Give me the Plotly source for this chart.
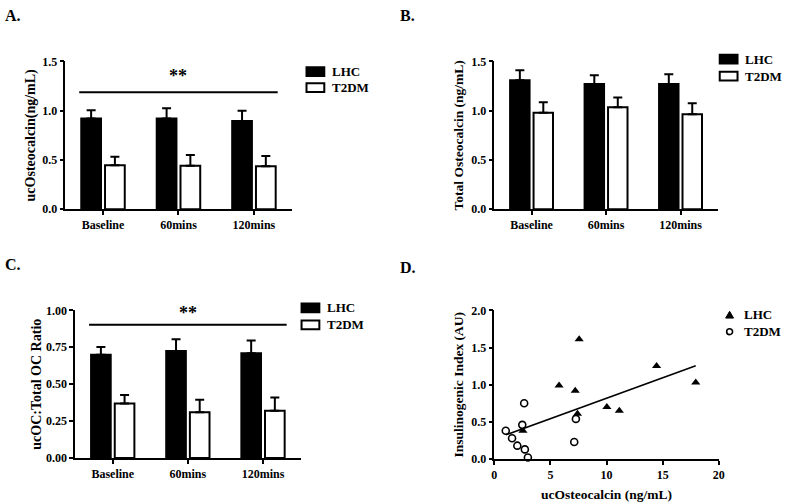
import numpy as np
import plotly.graph_objects as go

W, H = 789, 503

# ---------------- data ----------------
groups = ["Baseline", "60mins", "120mins"]

# A. ucOsteocalcin (ng/mL)
uc_lhc = [0.92, 0.92, 0.895]
uc_lhc_err = [0.085, 0.105, 0.105]
uc_t2dm = [0.445, 0.44, 0.435]
uc_t2dm_err = [0.088, 0.11, 0.105]

# B. Total osteocalcin (ng/mL)
tot_lhc = [1.31, 1.27, 1.27]
tot_lhc_err = [0.10, 0.09, 0.10]
tot_t2dm = [0.98, 1.035, 0.965]
tot_t2dm_err = [0.105, 0.10, 0.11]

# C. ucOC:Total OC ratio
ratio_lhc = [0.70, 0.725, 0.71]
ratio_lhc_err = [0.052, 0.08, 0.085]
ratio_t2dm = [0.37, 0.31, 0.32]
ratio_t2dm_err = [0.057, 0.084, 0.09]

# D. ucOsteocalcin vs insulinogenic index
d_lhc_x = [7.56, 5.77, 7.21, 7.41, 10.03, 11.14, 2.55, 14.46, 17.95]
d_lhc_y = [1.61, 0.99, 0.92, 0.61, 0.70, 0.65, 0.38, 1.25, 1.03]
d_t2dm_x = [1.02, 1.58, 2.05, 2.72, 2.99, 2.49, 2.66, 7.27, 7.12]
d_t2dm_y = [0.38, 0.28, 0.18, 0.13, 0.02, 0.46, 0.75, 0.54, 0.23]

# significance bars (y level) for A and C
sig_a = 1.187
sig_c = 0.903

# ---------------- helpers ----------------
FONT = "Liberation Serif"
BARGAP = 0.37


def fnt(size):
    return dict(family=FONT, size=size, color="black", weight="bold")


def px(x):
    return x / W


def py(y):
    return 1 - y / H


def bars(x, y, err, fill, axis):
    return go.Bar(
        x=x, y=y, xaxis="x" + axis, yaxis="y" + axis,
        marker=dict(color=fill, line=dict(color="black", width=2)),
        error_y=dict(type="data", array=err, arrayminus=[0] * len(err), symmetric=False,
                     color="black", thickness=2, width=4.5),
        showlegend=False,
    )


fig = go.Figure()
for axis, lhc, lhc_e, t2, t2_e in [
    ("", uc_lhc, uc_lhc_err, uc_t2dm, uc_t2dm_err),
    ("2", tot_lhc, tot_lhc_err, tot_t2dm, tot_t2dm_err),
    ("3", ratio_lhc, ratio_lhc_err, ratio_t2dm, ratio_t2dm_err),
]:
    fig.add_trace(bars(groups, lhc, lhc_e, "black", axis))
    fig.add_trace(bars(groups, t2, t2_e, "white", axis))

# scatter panel
fig.add_trace(go.Scatter(x=d_lhc_x, y=d_lhc_y, mode="markers", xaxis="x4", yaxis="y4",
                         marker=dict(symbol="triangle-up", size=8, color="black"),
                         cliponaxis=False, showlegend=False))
fig.add_trace(go.Scatter(x=d_t2dm_x, y=d_t2dm_y, mode="markers", xaxis="x4", yaxis="y4",
                         marker=dict(symbol="circle", size=7, color="white",
                                     line=dict(color="black", width=1.6)),
                         cliponaxis=False, showlegend=False))

# pooled linear fit
all_x = np.array(d_lhc_x + d_t2dm_x)
all_y = np.array(d_lhc_y + d_t2dm_y)
slope, icpt = np.polyfit(all_x, all_y, 1)
fx = np.array([all_x.min(), all_x.max()])
fig.add_trace(go.Scatter(x=fx, y=slope * fx + icpt, mode="lines", xaxis="x4", yaxis="y4",
                         line=dict(color="black", width=1.6), showlegend=False))

axis_common = dict(showline=True, linecolor="black", linewidth=1.5, ticks="outside",
                   ticklen=4, tickwidth=1.5, tickcolor="black", showgrid=False,
                   zeroline=False, tickfont=fnt(12))

fig.update_layout(
    width=W, height=H,
    margin=dict(l=0, r=0, t=0, b=0),
    paper_bgcolor="white", plot_bgcolor="white",
    font=fnt(12),
    barmode="group", bargap=BARGAP, bargroupgap=0.17,
    xaxis=dict(domain=[px(63), px(292)], anchor="y", range=[-0.5, 2.5], **axis_common),
    yaxis=dict(domain=[py(208), py(56)], anchor="x", range=[0, 1.5], dtick=0.5,
               tickformat=".1f", title=dict(text="ucOsteocalcin(ng/mL)", font=fnt(14), standoff=3),
               **axis_common),
    xaxis2=dict(domain=[px(497), px(723)], anchor="y2", range=[-0.5, 2.5], **axis_common),
    yaxis2=dict(domain=[py(208), py(56)], anchor="x2", range=[0, 1.5], dtick=0.5,
                tickformat=".1f", title=dict(text="Total Osteocalcin (ng/mL)", font=fnt(13.5), standoff=4),
                **axis_common),
    xaxis3=dict(domain=[px(73), px(301)], anchor="y3", range=[-0.5, 2.5], **axis_common),
    yaxis3=dict(domain=[py(464), py(312)], anchor="x3", range=[0, 1], dtick=0.25,
                tickformat=".2f", title=dict(text="ucOC:Total OC Ratio", font=fnt(14), standoff=1),
                **axis_common),
    xaxis4=dict(domain=[px(497), px(724)], anchor="y4", range=[0, 20], dtick=5,
                title=dict(text="ucOsteocalcin (ng/mL)", font=fnt(13.5), standoff=8),
                **axis_common),
    yaxis4=dict(domain=[py(465), py(312)], anchor="x4", range=[0, 2], dtick=0.5,
                tickformat=".1f", title=dict(text="Insulinogenic Index (AU)", font=fnt(13.5), standoff=4),
                **axis_common),
)

ann = []
shapes = []

# panel letters
for t, x, y in [("A.", 0, 9), ("B.", 400, 9), ("C.", 0, 265), ("D.", 400, 268)]:
    ann.append(dict(text=t, x=px(x), y=py(y), xref="paper", yref="paper",
                    xanchor="left", yanchor="middle", showarrow=False, font=fnt(16)))

# significance lines with stars
half = (1 - BARGAP) / 2
for xr, yr, lvl, star in [("x", "y", sig_a, 1.35), ("x3", "y3", sig_c, 0.985)]:
    shapes.append(dict(type="line", xref=xr, yref=yr, x0=-half, x1=2 + half, y0=lvl, y1=lvl,
                       line=dict(color="black", width=2)))
    ann.append(dict(text="**", x=1, y=star, xref=xr, yref=yr, xanchor="center",
                    yanchor="middle", showarrow=False, font=fnt(18)))

# bar legends (box x0, x1, top y of LHC box, step)
for x0, x1, ytop, step, tx in [(307, 325, 62, 16.5, 331), (725, 743, 49, 17.5, 749),
                                (302, 320, 305, 17.5, 326)]:
    for i, (name, fill) in enumerate([("LHC", "black"), ("T2DM", "white")]):
        y0 = ytop + i * step
        shapes.append(dict(type="rect", xref="paper", yref="paper",
                           x0=px(x0), x1=px(x1), y0=py(y0 + 9), y1=py(y0),
                           fillcolor=fill, line=dict(color="black", width=2)))
        ann.append(dict(text=name, x=px(tx), y=py(y0 + 4.5), xref="paper", yref="paper",
                        xanchor="left", yanchor="middle", showarrow=False, font=fnt(13)))

# scatter legend
cx, cy1, cy2 = 735, 316.5, 334
shapes.append(dict(type="path", xref="paper", yref="paper",
                   path=f"M {px(cx - 4)},{py(cy1 + 3.5)} L {px(cx + 4)},{py(cy1 + 3.5)} "
                        f"L {px(cx)},{py(cy1 - 3.5)} Z",
                   fillcolor="black", line=dict(color="black", width=1)))
shapes.append(dict(type="circle", xref="paper", yref="paper",
                   x0=px(cx - 3), x1=px(cx + 3), y0=py(cy2 + 3), y1=py(cy2 - 3),
                   fillcolor="white", line=dict(color="black", width=1.6)))
for name, cy in [("LHC", cy1), ("T2DM", cy2)]:
    ann.append(dict(text=name, x=px(748), y=py(cy), xref="paper", yref="paper",
                    xanchor="left", yanchor="middle", showarrow=False, font=fnt(13)))

fig.update_layout(annotations=ann, shapes=shapes)

# drop the browser's default page margin so the figure sits at (0, 0)
fig.write_html("out.html", config={"displayModeBar": False},
               post_script="document.body.style.margin='0px';")
